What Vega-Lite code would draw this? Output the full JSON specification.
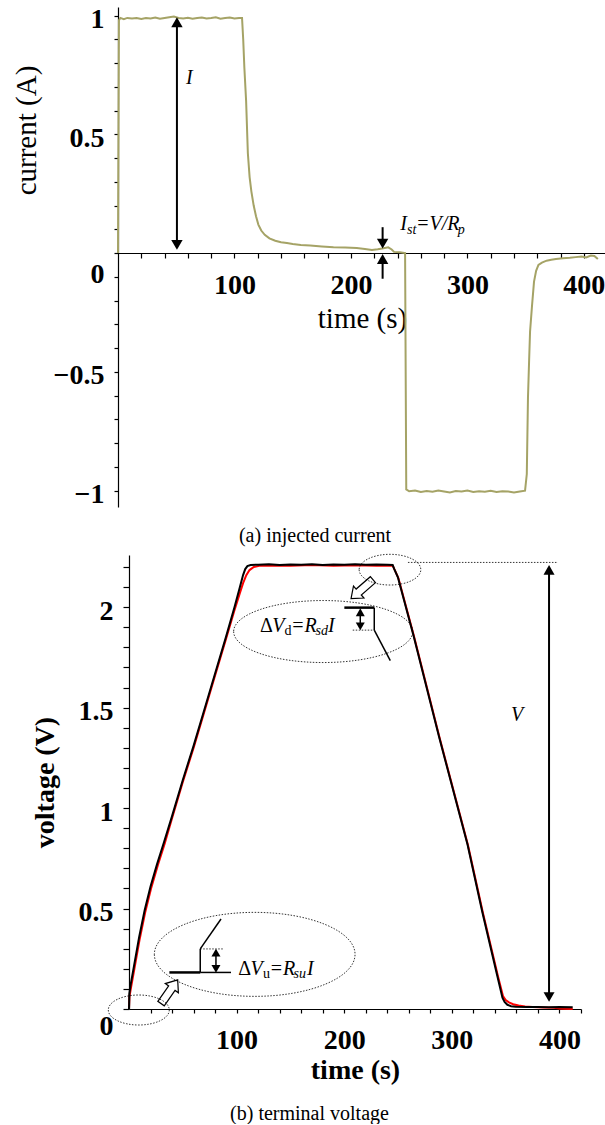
{
  "$schema": "https://vega.github.io/schema/vega-lite/v6.json",
  "background": "white",
  "padding": {"left": 11, "top": 5, "right": 0, "bottom": 0},
  "spacing": 48,
  "bounds": "flush",
  "config": {
    "view": {"stroke": null},
    "axis": {"grid": false, "domainColor": "black", "tickColor": "black", "labelColor": "black", "titleColor": "black", "labelFont": "Liberation Serif", "titleFont": "Liberation Serif", "labelFontSize": 28, "labelFontWeight": "bold", "labelFlush": false, "labelOverlap": false, "domainWidth": 1.2, "tickWidth": 1.2}
  },
  "vconcat": [
    {
      "width": 488,
      "height": 500,
      "title": {"text": "(a) injected current", "orient": "bottom", "frame": "group", "anchor": "middle", "dx": -47, "offset": 17, "font": "Liberation Serif", "fontSize": 20, "fontWeight": "normal", "color": "black"},
      "encoding": {
        "x": {"field": "t", "type": "quantitative", "scale": {"domain": [0, 419], "nice": false, "zero": false},
          "axis": {"title": "time (s)", "values": [20,40,60,80,100,120,140,160,180,200,220,240,260,280,300,320,340,360,380,400], "format": "d", "labelExpr": "datum.value % 100 == 0 ? datum.label : ''", "offset": -254, "tickSize": 5, "labelPadding": 13, "titleFontSize": 29, "titleFontWeight": "normal", "titlePadding": 5}},
        "y": {"field": "i", "type": "quantitative", "scale": {"domain": [-1.069, 1.036], "nice": false, "zero": false},
          "axis": {"title": "current (A)", "values": [-1,-0.9,-0.8,-0.7,-0.6,-0.5,-0.4,-0.3,-0.2,-0.1,0,0.1,0.2,0.3,0.4,0.5,0.6,0.7,0.8,0.9,1], "format": "~g", "labelExpr": "abs(round(datum.value*10)) % 5 == 0 ? datum.label : ''", "labelOffset": {"condition": {"test": "datum.value == 0", "value": 21}, "value": 4}, "tickSize": 4, "labelPadding": 10, "titleFontSize": 29, "titleFontWeight": "normal", "titleAngle": -90, "titleX": -92, "titleY": 123, "titleAlign": "center", "titleBaseline": "middle"}}
      },
      "layer": [
        {
          "data": {"values": [
            {"t": 0, "i": 0}, {"t": 0.8, "i": 0.98}, {"t": 2, "i": 0.99}, {"t": 5, "i": 0.985}, {"t": 8, "i": 0.99}, {"t": 12, "i": 0.988}, {"t": 16, "i": 0.99}, {"t": 20, "i": 0.986}, {"t": 24, "i": 0.99}, {"t": 28, "i": 0.988}, {"t": 32, "i": 0.992}, {"t": 36, "i": 0.987}, {"t": 40, "i": 0.99}, {"t": 44, "i": 0.993}, {"t": 48, "i": 0.996}, {"t": 52, "i": 0.99}, {"t": 56, "i": 0.988}, {"t": 60, "i": 0.991}, {"t": 64, "i": 0.987}, {"t": 68, "i": 0.99}, {"t": 72, "i": 0.992}, {"t": 76, "i": 0.988}, {"t": 80, "i": 0.99}, {"t": 84, "i": 0.993}, {"t": 88, "i": 0.987}, {"t": 92, "i": 0.99}, {"t": 96, "i": 0.992}, {"t": 100, "i": 0.988}, {"t": 104, "i": 0.99}, {"t": 106.5, "i": 0.99},
            {"t": 107.5, "i": 0.9}, {"t": 108.5, "i": 0.78}, {"t": 110, "i": 0.64}, {"t": 111.5, "i": 0.42}, {"t": 113, "i": 0.32}, {"t": 114.5, "i": 0.26}, {"t": 116.5, "i": 0.2}, {"t": 118.5, "i": 0.155}, {"t": 120.5, "i": 0.12}, {"t": 123, "i": 0.095}, {"t": 126, "i": 0.077}, {"t": 130, "i": 0.062}, {"t": 135, "i": 0.052}, {"t": 140, "i": 0.046}, {"t": 145, "i": 0.042}, {"t": 150, "i": 0.038}, {"t": 157, "i": 0.034}, {"t": 165, "i": 0.032}, {"t": 175, "i": 0.028}, {"t": 185, "i": 0.025}, {"t": 195, "i": 0.024}, {"t": 205, "i": 0.021}, {"t": 212, "i": 0.017}, {"t": 218, "i": 0.013}, {"t": 223, "i": 0.016}, {"t": 228, "i": 0.02}, {"t": 232, "i": 0.024}, {"t": 235, "i": 0.015}, {"t": 237, "i": 0.005}, {"t": 242, "i": 0.003}, {"t": 246.5, "i": 0},
            {"t": 247, "i": -0.5}, {"t": 247.5, "i": -0.995}, {"t": 250, "i": -1.003}, {"t": 255, "i": -1.0}, {"t": 260, "i": -1.006}, {"t": 265, "i": -1.002}, {"t": 270, "i": -1.005}, {"t": 275, "i": -1.0}, {"t": 280, "i": -1.004}, {"t": 285, "i": -1.008}, {"t": 290, "i": -1.002}, {"t": 295, "i": -1.004}, {"t": 300, "i": -1.0}, {"t": 305, "i": -1.006}, {"t": 310, "i": -1.003}, {"t": 315, "i": -1.005}, {"t": 320, "i": -1.001}, {"t": 325, "i": -1.006}, {"t": 330, "i": -1.003}, {"t": 335, "i": -1.004}, {"t": 340, "i": -1.008}, {"t": 345, "i": -1.004}, {"t": 349.5, "i": -1.0},
            {"t": 351, "i": -0.93}, {"t": 352, "i": -0.61}, {"t": 353, "i": -0.45}, {"t": 353.8, "i": -0.33}, {"t": 355.5, "i": -0.22}, {"t": 357.2, "i": -0.12}, {"t": 359, "i": -0.075}, {"t": 361, "i": -0.05}, {"t": 364, "i": -0.04}, {"t": 368, "i": -0.032}, {"t": 372, "i": -0.028}, {"t": 376, "i": -0.025}, {"t": 382, "i": -0.022}, {"t": 388, "i": -0.02}, {"t": 393, "i": -0.017}, {"t": 398, "i": -0.014}, {"t": 402, "i": -0.018}, {"t": 406, "i": -0.01}, {"t": 409, "i": -0.012}, {"t": 412, "i": -0.025}
          ]},
          "mark": {"type": "line", "color": "#a5a366", "strokeWidth": 2}
        },
        {
          "data": {"values": [
            {"t": 50.6, "i": 0.972, "t2": 50.6, "i2": 0.035},
            {"t": 227.2, "i": 0.109, "t2": 227.2, "i2": 0.045},
            {"t": 227.2, "i": -0.108, "t2": 227.2, "i2": -0.02}
          ]},
          "mark": {"type": "rule", "color": "black", "strokeWidth": 2},
          "encoding": {"x2": {"field": "t2"}, "y2": {"field": "i2"}}
        },
        {
          "data": {"values": [{"t": 50.6, "i": 0.972}, {"t": 227.2, "i": -0.025}]},
          "mark": {"type": "point", "shape": "triangle-up", "filled": true, "color": "black", "opacity": 1, "size": 130}
        },
        {
          "data": {"values": [{"t": 50.6, "i": 0.0345}, {"t": 227.2, "i": 0.04}]},
          "mark": {"type": "point", "shape": "triangle-down", "filled": true, "color": "black", "opacity": 1, "size": 130}
        },
        {
          "data": {"values": [{"t": 58.4, "i": 0.712, "label": "I"}, {"t": 242.3, "i": 0.0968, "label": "I"}, {"t": 255.8, "i": 0.0968, "label": "=V/R"}]},
          "mark": {"type": "text", "align": "left", "baseline": "alphabetic", "font": "Liberation Serif", "fontStyle": "italic", "fontSize": 20, "color": "black"},
          "encoding": {"text": {"field": "label"}}
        },
        {
          "data": {"values": [{"t": 248.1, "i": 0.08, "label": "st"}, {"t": 291.8, "i": 0.08, "label": "p"}]},
          "mark": {"type": "text", "align": "left", "baseline": "alphabetic", "font": "Liberation Serif", "fontStyle": "italic", "fontSize": 14, "color": "black"},
          "encoding": {"text": {"field": "label"}}
        }
      ]
    },
    {
      "width": 463,
      "height": 454,
      "title": {"text": "(b) terminal voltage", "orient": "bottom", "frame": "group", "anchor": "middle", "dx": -40, "offset": 20, "font": "Liberation Serif", "fontSize": 20, "fontWeight": "normal", "color": "black"},
      "encoding": {
        "x": {"field": "t", "type": "quantitative", "scale": {"domain": [0, 420], "range": [11, 463], "nice": false, "zero": false},
          "axis": {"title": "time (s)", "values": [20,40,60,80,100,120,140,160,180,200,220,240,260,280,300,320,340,360,380,400,420], "format": "d", "labelExpr": "datum.value % 100 == 0 ? datum.label : ''", "tickSize": 4, "labelPadding": 13, "titleFontSize": 28, "titleFontWeight": "bold", "titlePadding": 2}},
        "y": {"field": "v", "type": "quantitative", "scale": {"domain": [0, 2.26], "nice": false, "zero": false},
          "axis": {"title": "voltage (V)", "offset": -11, "values": [0,0.1,0.2,0.3,0.4,0.5,0.6,0.7,0.8,0.9,1,1.1,1.2,1.3,1.4,1.5,1.6,1.7,1.8,1.9,2,2.1,2.2], "format": "~g", "labelExpr": "abs(round(datum.value*10)) % 5 == 0 ? datum.label : ''", "labelOffset": {"condition": {"test": "datum.value == 0", "value": 17}, "value": 4}, "tickSize": 6, "labelPadding": 10, "titleFontSize": 28, "titleFontWeight": "bold", "titleAngle": -90, "titleX": -84, "titleY": 227, "titleAlign": "center", "titleBaseline": "middle"}}
      },
      "layer": [
        {
          "data": {"values": [
            {"t": 0, "v": 0}, {"t": 0.4, "v": 0.06}, {"t": 2, "v": 0.11}, {"t": 5, "v": 0.2}, {"t": 10, "v": 0.35}, {"t": 15, "v": 0.48}, {"t": 20.5, "v": 0.6}, {"t": 27, "v": 0.72}, {"t": 33, "v": 0.82}, {"t": 40, "v": 0.95}, {"t": 50, "v": 1.13}, {"t": 60, "v": 1.3}, {"t": 70, "v": 1.48}, {"t": 80, "v": 1.66}, {"t": 90, "v": 1.84}, {"t": 98, "v": 1.985}, {"t": 103, "v": 2.07}, {"t": 106, "v": 2.12}, {"t": 109, "v": 2.16}, {"t": 112, "v": 2.185}, {"t": 116, "v": 2.2}, {"t": 122, "v": 2.207}, {"t": 130, "v": 2.208}, {"t": 150, "v": 2.206}, {"t": 170, "v": 2.21}, {"t": 190, "v": 2.207}, {"t": 210, "v": 2.209}, {"t": 230, "v": 2.207}, {"t": 245, "v": 2.207},
            {"t": 247, "v": 2.185}, {"t": 250.3, "v": 2.145}, {"t": 264.8, "v": 1.855}, {"t": 288.6, "v": 1.35}, {"t": 315, "v": 0.815}, {"t": 329, "v": 0.475}, {"t": 343, "v": 0.16}, {"t": 347.5, "v": 0.065}, {"t": 350, "v": 0.045}, {"t": 353, "v": 0.033}, {"t": 357, "v": 0.024}, {"t": 362, "v": 0.017}, {"t": 368, "v": 0.012}, {"t": 375, "v": 0.01}, {"t": 385, "v": 0.008}, {"t": 395, "v": 0.006}, {"t": 400, "v": 0.003}, {"t": 405, "v": 0.001}, {"t": 412.3, "v": 0}
          ]},
          "mark": {"type": "line", "color": "#ff0000", "strokeWidth": 2}
        },
        {
          "data": {"values": [
            {"t": 0, "v": 0}, {"t": 0.3, "v": 0.075}, {"t": 1.5, "v": 0.12}, {"t": 4.5, "v": 0.21}, {"t": 9.5, "v": 0.36}, {"t": 14.5, "v": 0.49}, {"t": 20, "v": 0.61}, {"t": 26, "v": 0.72}, {"t": 32.5, "v": 0.83}, {"t": 40, "v": 0.96}, {"t": 50, "v": 1.14}, {"t": 60, "v": 1.31}, {"t": 70, "v": 1.49}, {"t": 80, "v": 1.67}, {"t": 90, "v": 1.85}, {"t": 98, "v": 2.0}, {"t": 103, "v": 2.1}, {"t": 106, "v": 2.16}, {"t": 108, "v": 2.19}, {"t": 110, "v": 2.205}, {"t": 113, "v": 2.21}, {"t": 120, "v": 2.212}, {"t": 130, "v": 2.214}, {"t": 140, "v": 2.21}, {"t": 150, "v": 2.213}, {"t": 160, "v": 2.211}, {"t": 170, "v": 2.214}, {"t": 180, "v": 2.21}, {"t": 190, "v": 2.213}, {"t": 200, "v": 2.212}, {"t": 210, "v": 2.214}, {"t": 220, "v": 2.211}, {"t": 230, "v": 2.213}, {"t": 240, "v": 2.212}, {"t": 245, "v": 2.21},
            {"t": 246.5, "v": 2.19}, {"t": 249.8, "v": 2.15}, {"t": 264.3, "v": 1.86}, {"t": 288.1, "v": 1.355}, {"t": 314.5, "v": 0.82}, {"t": 328.4, "v": 0.48}, {"t": 342.3, "v": 0.163}, {"t": 347, "v": 0.056}, {"t": 349, "v": 0.035}, {"t": 351.6, "v": 0.021}, {"t": 355, "v": 0.014}, {"t": 359.3, "v": 0.011}, {"t": 370, "v": 0.01}, {"t": 380, "v": 0.01}, {"t": 390, "v": 0.009}, {"t": 400, "v": 0.01}, {"t": 412.3, "v": 0.009}
          ]},
          "mark": {"type": "line", "color": "#000000", "strokeWidth": 2}
        },
        {
          "data": {"values": [{"t": 390.3, "v": 2.18, "t2": 390.3, "v2": 0.065}]},
          "mark": {"type": "rule", "color": "black", "strokeWidth": 2},
          "encoding": {"x2": {"field": "t2"}, "y2": {"field": "v2"}}
        },
        {
          "data": {"values": [{"t": 200.1, "v": 1.998, "t2": 227.9, "v2": 1.998}, {"t": 37.5, "v": 0.182, "t2": 66.2, "v2": 0.182}]},
          "mark": {"type": "rule", "color": "black", "strokeWidth": 2.5},
          "encoding": {"x2": {"field": "t2"}, "y2": {"field": "v2"}}
        },
        {
          "data": {"values": [
            {"t": 227.9, "v": 1.998, "t2": 227.9, "v2": 1.886},
            {"t": 227.9, "v": 1.886, "t2": 242.8, "v2": 1.734},
            {"t": 214.9, "v": 1.975, "t2": 214.9, "v2": 1.905},
            {"t": 66.2, "v": 0.182, "t2": 66.2, "v2": 0.299},
            {"t": 66.2, "v": 0.299, "t2": 85.5, "v2": 0.448},
            {"t": 66.2, "v": 0.182, "t2": 94.8, "v2": 0.182},
            {"t": 80.8, "v": 0.281, "t2": 80.8, "v2": 0.2}
          ]},
          "mark": {"type": "rule", "color": "black", "strokeWidth": 1.5},
          "encoding": {"x2": {"field": "t2"}, "y2": {"field": "v2"}}
        },
        {
          "data": {"values": [
            {"t": 259.2, "v": 2.223, "t2": 398.6, "v2": 2.223},
            {"t": 207.9, "v": 1.886, "t2": 227.9, "v2": 1.886},
            {"t": 66.2, "v": 0.299, "t2": 87.3, "v2": 0.299}
          ]},
          "mark": {"type": "rule", "color": "black", "strokeWidth": 0.8, "strokeDash": [1.5, 1.5]},
          "encoding": {"x2": {"field": "t2"}, "y2": {"field": "v2"}}
        },
        {
          "data": {"values": [{"t": 390.3, "v": 2.186}]},
          "mark": {"type": "point", "shape": "triangle-up", "filled": true, "color": "black", "opacity": 1, "size": 121}
        },
        {
          "data": {"values": [{"t": 390.3, "v": 0.06}]},
          "mark": {"type": "point", "shape": "triangle-down", "filled": true, "color": "black", "opacity": 1, "size": 121}
        },
        {
          "data": {"values": [{"t": 214.9, "v": 1.975}, {"t": 80.8, "v": 0.281}]},
          "mark": {"type": "point", "shape": "triangle-up", "filled": true, "color": "black", "opacity": 1, "size": 81}
        },
        {
          "data": {"values": [{"t": 214.9, "v": 1.905}, {"t": 80.8, "v": 0.2}]},
          "mark": {"type": "point", "shape": "triangle-down", "filled": true, "color": "black", "opacity": 1, "size": 81}
        },
        {
          "data": {"values": [{"t": 242.5, "v": 2.187}]},
          "mark": {"type": "point", "shape": "M-1,0A1,0.4976,0,1,0,1,0A1,0.4976,0,1,0,-1,0Z", "filled": false, "stroke": "black", "strokeWidth": 0.8, "strokeDash": [1.5, 1.5], "opacity": 1, "size": 3807}
        },
        {
          "data": {"values": [{"t": 180.4, "v": 1.879}]},
          "mark": {"type": "point", "shape": "M-1,0A1,0.3464,0,1,0,1,0A1,0.3464,0,1,0,-1,0Z", "filled": false, "stroke": "black", "strokeWidth": 0.8, "strokeDash": [1.5, 1.5], "opacity": 1, "size": 32041}
        },
        {
          "data": {"values": [{"t": 9.1, "v": -0.005}]},
          "mark": {"type": "point", "shape": "M-1,0A1,0.4918,0,1,0,1,0A1,0.4918,0,1,0,-1,0Z", "filled": false, "stroke": "black", "strokeWidth": 0.8, "strokeDash": [1.5, 1.5], "opacity": 1, "size": 3721}
        },
        {
          "data": {"values": [{"t": 116.8, "v": 0.272}]},
          "mark": {"type": "point", "shape": "M-1,0A1,0.4185,0,1,0,1,0A1,0.4185,0,1,0,-1,0Z", "filled": false, "stroke": "black", "strokeWidth": 0.8, "strokeDash": [1.5, 1.5], "opacity": 1, "size": 40280}
        },
        {
          "data": {"values": [{"t": 216.5, "v": 2.09}]},
          "mark": {"type": "point", "shape": "M-1,-0.27L0.3,-0.27L0.3,-0.55L1,0L0.3,0.55L0.3,0.27L-1,0.27Z", "angle": 139, "filled": false, "stroke": "black", "strokeWidth": 1.2, "opacity": 1, "size": 841}
        },
        {
          "data": {"values": [{"t": 37.5, "v": 0.086}]},
          "mark": {"type": "point", "shape": "M-1,-0.27L0.3,-0.27L0.3,-0.55L1,0L0.3,0.55L0.3,0.27L-1,0.27Z", "angle": 305, "filled": false, "stroke": "black", "strokeWidth": 1.2, "opacity": 1, "size": 841}
        },
        {
          "data": {"values": [{"t": 121.7, "v": 1.877, "label": "Δ"}, {"t": 101.6, "v": 0.169, "label": "Δ"}]},
          "mark": {"type": "text", "align": "left", "baseline": "alphabetic", "font": "Liberation Serif", "fontSize": 20, "color": "black"},
          "encoding": {"text": {"field": "label"}}
        },
        {
          "data": {"values": [
            {"t": 133.0, "v": 1.877, "label": "V"}, {"t": 150.5, "v": 1.877, "label": "=R"}, {"t": 184.9, "v": 1.877, "label": "I"},
            {"t": 113.0, "v": 0.169, "label": "V"}, {"t": 130.5, "v": 0.169, "label": "=R"}, {"t": 165.4, "v": 0.169, "label": "I"},
            {"t": 355, "v": 1.435, "label": "V"}
          ]},
          "mark": {"type": "text", "align": "left", "baseline": "alphabetic", "font": "Liberation Serif", "fontStyle": "italic", "fontSize": 20, "color": "black"},
          "encoding": {"text": {"field": "label"}}
        },
        {
          "data": {"values": [{"t": 144.5, "v": 1.862, "label": "d"}, {"t": 124.5, "v": 0.156, "label": "u"}]},
          "mark": {"type": "text", "align": "left", "baseline": "alphabetic", "font": "Liberation Serif", "fontSize": 14, "color": "black"},
          "encoding": {"text": {"field": "label"}}
        },
        {
          "data": {"values": [{"t": 173.3, "v": 1.862, "label": "sd"}, {"t": 152.9, "v": 0.156, "label": "su"}]},
          "mark": {"type": "text", "align": "left", "baseline": "alphabetic", "font": "Liberation Serif", "fontStyle": "italic", "fontSize": 14, "color": "black"},
          "encoding": {"text": {"field": "label"}}
        }
      ]
    }
  ]
}
